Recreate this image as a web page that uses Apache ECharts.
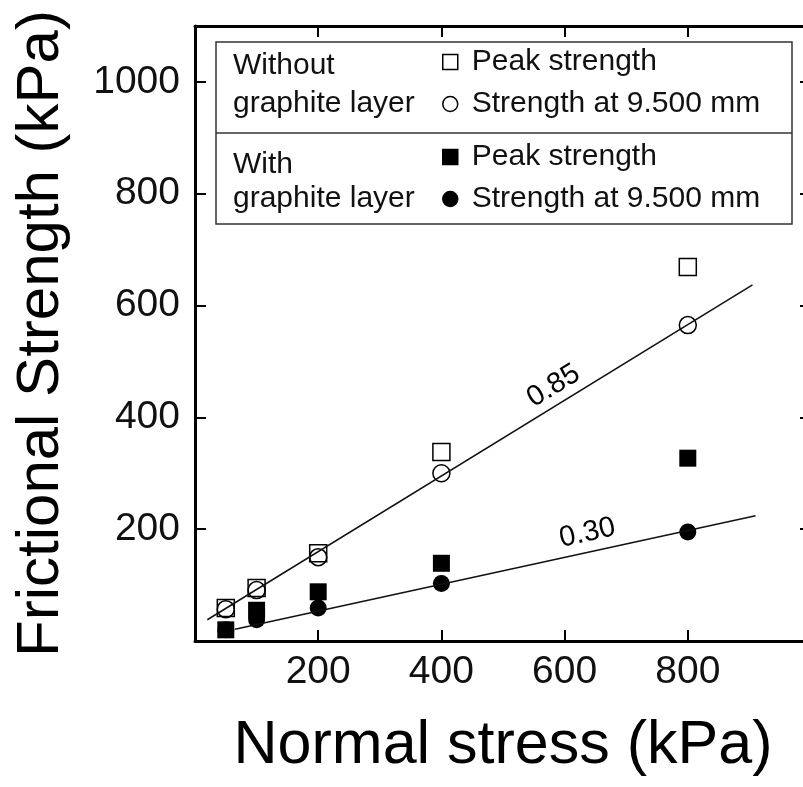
<!DOCTYPE html>
<html>
<head>
<meta charset="utf-8">
<script src="https://cdn.jsdelivr.net/npm/echarts@6/dist/echarts.min.js"></script>
<style>
html, body { margin: 0; padding: 0; background: #fff; }
#chart { width: 803px; height: 787px; }
</style>
</head>
<body>
<div id="chart"></div>
<script>
// normal stress (kPa) of each test
var stress = [50, 100, 200, 400, 800];
// frictional strength (kPa)
var peakWithout = [59, 95, 157, 338, 669];
var residualWithout = [57, 91, 150, 300, 565];
var peakWith = [20, 55, 88, 139, 327];
var residualWith = [20, 38, 59, 103, 195];
// fitted lines, end points
var fitWithout = [[20, 38], [905, 637]];
var fitWith = [[65, 21], [910, 224]];
// slope labels and where they sit
var slopeText = ['0.85', '0.30'];
var slopeAt = [[582, 456], [637, 193]];
var slopeAngle = [31.5, 12.5];

var FONT = 'Liberation Sans, Arial, sans-serif';

function pairs(xs, ys) {
    return xs.map(function (x, i) { return [x, ys[i]]; });
}

var legendNames = {
    'peakWithout': 'Peak strength',
    'residualWithout': 'Strength at 9.500 mm',
    'peakWith': 'Peak strength',
    'residualWith': 'Strength at 9.500 mm'
};

var chart = echarts.init(document.getElementById('chart'));

var frameLine = { color: '#000', width: 3 };
var tickIn = { inside: true, length: 11, lineStyle: { color: '#000', width: 2 } };

var legendBase = {
    orient: 'vertical',
    left: 442,
    padding: 0,
    itemWidth: 15,
    itemHeight: 15,
    itemGap: 12,
    selectedMode: false,
    itemStyle: { borderWidth: 1.5 },
    textStyle: { fontSize: 30, color: '#111', fontFamily: FONT, padding: [0, 0, 0, 9] },
    formatter: function (name) { return legendNames[name]; }
};

var option = {
    animation: false,
    backgroundColor: '#fff',
    textStyle: { fontFamily: FONT },
    // the right edge of the frame runs just past the picture
    grid: {
        left: 195, width: 616, top: 26, height: 615,
        containLabel: false, outerBoundsMode: 'none'
    },
    xAxis: [
        {
            type: 'value', position: 'bottom', min: 0, max: 1000, interval: 200,
            axisLine: { show: true, onZero: false, lineStyle: frameLine },
            axisTick: tickIn,
            splitLine: { show: false },
            axisLabel: {
                fontSize: 39, color: '#111', margin: 12, fontFamily: FONT,
                formatter: function (v) { return (v > 0 && v < 1000) ? v : ''; }
            },
            name: 'Normal stress (kPa)', nameLocation: 'middle', nameGap: 75,
            nameTextStyle: { fontSize: 61, color: '#000', fontFamily: FONT }
        },
        {
            type: 'value', position: 'top', min: 0, max: 1000, interval: 200,
            axisLine: { show: true, onZero: false, lineStyle: frameLine },
            axisTick: tickIn, axisLabel: { show: false }, splitLine: { show: false }
        }
    ],
    yAxis: [
        {
            type: 'value', position: 'left', min: 0, max: 1100, interval: 200,
            axisLine: { show: true, onZero: false, lineStyle: frameLine },
            axisTick: tickIn,
            splitLine: { show: false },
            axisLabel: {
                fontSize: 39, color: '#111', margin: 15, fontFamily: FONT,
                formatter: function (v) { return (v > 0 && v <= 1000) ? v : ''; }
            },
            name: 'Frictional Strength (kPa)', nameLocation: 'middle', nameGap: 124,
            nameTextStyle: { fontSize: 60, color: '#000', fontFamily: FONT }
        },
        {
            type: 'value', position: 'right', min: 0, max: 1100, interval: 200,
            axisLine: { show: true, onZero: false, lineStyle: frameLine },
            axisTick: tickIn, axisLabel: { show: false }, splitLine: { show: false }
        }
    ],
    legend: [
        Object.assign({}, legendBase, { top: 47, data: ['peakWithout', 'residualWithout'] }),
        Object.assign({}, legendBase, { top: 142, data: ['peakWith', 'residualWith'] })
    ],
    graphic: [
        { type: 'rect', z: 0, shape: { x: 216, y: 42, width: 576, height: 182 },
          style: { fill: '#fff', stroke: '#333', lineWidth: 1.5 } },
        { type: 'line', z: 0, shape: { x1: 216, y1: 133, x2: 792, y2: 133 },
          style: { stroke: '#333', lineWidth: 1.5 } },
        { type: 'text', x: 233, y: 66, style: { text: 'Without', fontSize: 30, fontFamily: FONT, fill: '#111', verticalAlign: 'middle' } },
        { type: 'text', x: 233, y: 104, style: { text: 'graphite layer', fontSize: 30, fontFamily: FONT, fill: '#111', verticalAlign: 'middle' } },
        { type: 'text', x: 233, y: 165, style: { text: 'With', fontSize: 30, fontFamily: FONT, fill: '#111', verticalAlign: 'middle' } },
        { type: 'text', x: 233, y: 199, style: { text: 'graphite layer', fontSize: 30, fontFamily: FONT, fill: '#111', verticalAlign: 'middle' } }
    ],
    series: [
        {
            name: 'fit 0.85', type: 'line', data: fitWithout, symbol: 'none',
            lineStyle: { color: '#111', width: 1.5 }, silent: true
        },
        {
            name: 'fit 0.30', type: 'line', data: fitWith, symbol: 'none',
            lineStyle: { color: '#111', width: 1.5 }, silent: true
        },
        {
            name: 'peakWithout', type: 'scatter', symbol: 'rect', symbolSize: 17,
            data: pairs(stress, peakWithout),
            itemStyle: { color: 'rgba(255,255,255,0)', borderColor: '#000', borderWidth: 1.5, opacity: 1 }
        },
        {
            name: 'residualWithout', type: 'scatter', symbol: 'circle', symbolSize: 17,
            data: pairs(stress, residualWithout),
            itemStyle: { color: 'rgba(255,255,255,0)', borderColor: '#000', borderWidth: 1.5, opacity: 1 }
        },
        {
            name: 'residualWith', type: 'scatter', symbol: 'circle', symbolSize: 17,
            data: pairs(stress, residualWith),
            itemStyle: { color: '#000', borderColor: '#000', borderWidth: 0, opacity: 1 }
        },
        {
            name: 'peakWith', type: 'scatter', symbol: 'rect', symbolSize: 17,
            data: pairs(stress, peakWith),
            itemStyle: { color: '#000', borderColor: '#000', borderWidth: 0, opacity: 1 }
        },
        {
            name: 'slopes', type: 'scatter', symbolSize: 1, silent: true,
            itemStyle: { color: 'rgba(0,0,0,0)', opacity: 1 },
            data: slopeAt.map(function (p, i) {
                return { value: p, name: slopeText[i], label: { rotate: slopeAngle[i] } };
            }),
            label: {
                show: true, position: 'inside', fontSize: 29, color: '#000', fontFamily: FONT,
                formatter: function (p) { return p.name; }
            }
        }
    ]
};

chart.setOption(option);
</script>
</body>
</html>
